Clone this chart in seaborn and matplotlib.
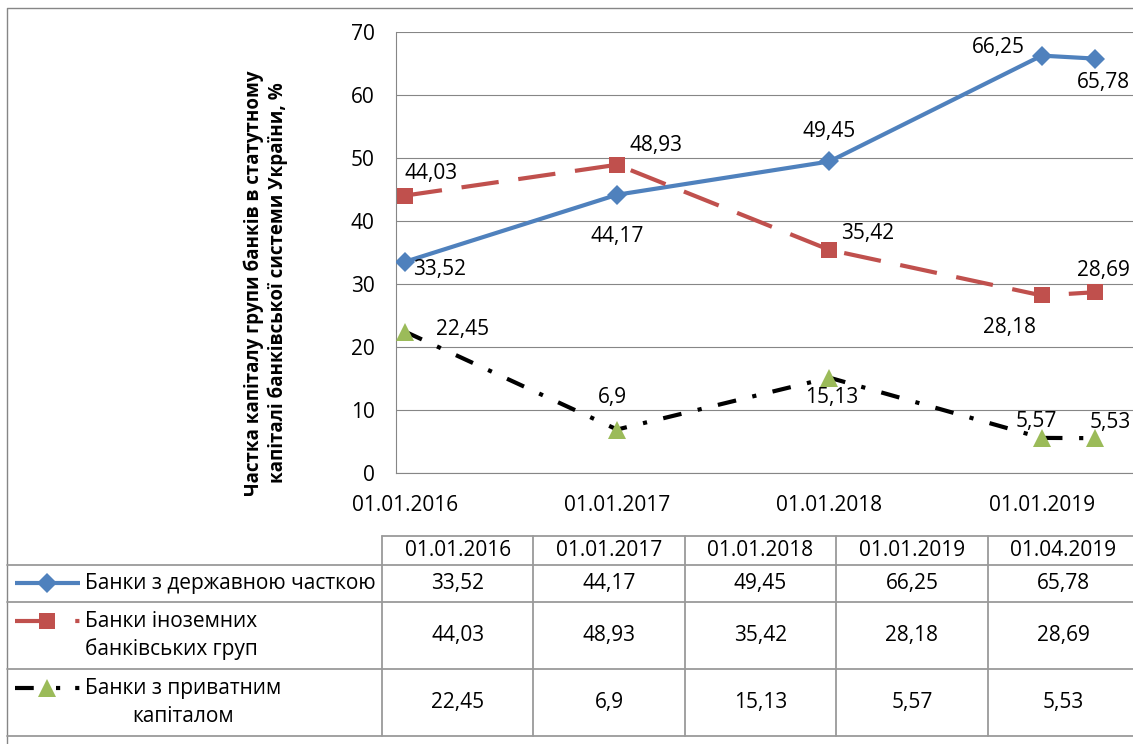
import matplotlib
matplotlib.use("Agg")
import matplotlib.pyplot as plt
import pandas as pd
import seaborn as sns

# ---------------- data ----------------
dates = ["01.01.2016", "01.01.2017", "01.01.2018", "01.01.2019", "01.04.2019"]
state_banks = [33.52, 44.17, 49.45, 66.25, 65.78]
foreign_banks = [44.03, 48.93, 35.42, 28.18, 28.69]
private_banks = [22.45, 6.9, 15.13, 5.57, 5.53]
series_names = [
    "Банки з державною часткою",
    "Банки іноземних\nбанківських груп",
    "Банки з приватним\nкапіталом",
]
axis_dates = ["01.01.2016", "01.01.2017", "01.01.2018", "01.01.2019"]
y_title = "Частка капіталу групи банків в статутному\nкапіталі банківської системи України, %"

# ---------------- style ----------------
W, H = 1133, 744
BLUE, RED, GREEN, BLACK = "#4F81BD", "#C0504D", "#9BBB59", "#000000"
GRID = "#868686"
TABLE = "#9A9A9A"
FS = 15

sns.set_style("white")
plt.rcParams["font.family"] = ["Open Sans", "DejaVu Sans"]
plt.rcParams.update({"text.color": "black", "xtick.color": "black", "ytick.color": "black"})


def month_pos(labels):
    d = pd.to_datetime(pd.Series(labels), format="%d.%m.%Y")
    return list((d.dt.year - 2016) * 12 + (d.dt.month - 1) + 0.5)


def px_rect(x0, y0, x1, y1):
    return [x0 / W, 1 - y1 / H, (x1 - x0) / W, (y1 - y0) / H]


def fmt(v):
    return str(v).replace(".", ",")


fig = plt.figure(figsize=(W / 100, H / 100), dpi=100)

# layout layer in pixel coordinates (frame, table, legend)
lay = fig.add_axes([0, 0, 1, 1], zorder=0)
lay.set_xlim(0, W)
lay.set_ylim(H, 0)
lay.axis("off")

# ---------------- chart ----------------
PX_PER_MONTH = 17.69
ax = fig.add_axes(px_rect(396, 32, W, 473), zorder=2)
ax.patch.set_alpha(0)
ax.set_xlim(0, (W - 396) / PX_PER_MONTH)
ax.set_ylim(0, 70)

x = month_pos(dates)
series = [
    (state_banks, dict(color=BLUE, marker="D", markersize=10.5, linestyle="-"),
     [(35, -8), (0, -42), (0, 30), (-43, 8), (9, -24)]),
    (foreign_banks, dict(color=RED, marker="s", markersize=12, linestyle=(0, (9, 4.75))),
     [(26, 22), (39, 19), (38, 16), (-32, -32), (9, 22)]),
    (private_banks, dict(color=BLACK, marker="^", markersize=13, markerfacecolor=GREEN,
                         linestyle=(0, (4.5, 4, 1, 4))),
     [(58, 2), (-5, 32), (2, -20), (-5, 16), (15, 16)]),
]

for vals, kw, offs in series:
    mfc = kw.pop("markerfacecolor", kw["color"])
    sns.lineplot(x=x, y=vals, ax=ax, linewidth=3.0, markerfacecolor=mfc,
                 markeredgecolor=mfc, markeredgewidth=0, zorder=3, **kw)
    for xi, v, (dx, dy) in zip(x, vals, offs):
        ax.annotate(fmt(v), (xi, v), xytext=(dx, dy), textcoords="offset pixels",
                    ha="center", va="center", fontsize=FS, zorder=4)

ax.yaxis.grid(True, color=GRID, linewidth=0.8)
ax.set_axisbelow(True)
for side in ("top", "right"):
    ax.spines[side].set_visible(False)
for side in ("left", "bottom"):
    ax.spines[side].set_color(GRID)
    ax.spines[side].set_linewidth(0.8)

ax.set_yticks(range(0, 71, 10))
ax.tick_params(axis="y", length=4.5, width=0.8, color=GRID, pad=11, labelsize=FS)

tick_pos = month_pos(axis_dates)
ax.set_xticks([p - 0.5 for p in tick_pos])
ax.set_xticklabels([])
ax.tick_params(axis="x", which="major", length=4.5, width=0.8, color=GRID)
ax.set_xticks(tick_pos, minor=True)
ax.set_xticklabels(axis_dates, minor=True)
ax.tick_params(axis="x", which="minor", length=0, pad=16, labelsize=FS)
ax.set_xlabel("")
ax.set_ylabel("")

fig.text(266 / W, 1 - 283 / H, y_title, rotation=90, ha="center", va="center",
         multialignment="center", fontsize=13.5, fontweight="bold", linespacing=1.25)

# ---------------- outer frame ----------------
lay.plot([7, 7, W], [H, 8, 8], color=GRID, lw=1.0)

# ---------------- data table ----------------
col_left, col_w = 382, 151.4
row_lines = [536, 565, 602, 669, 736]
col_lines = [col_left + i * col_w for i in range(6)]
lay.plot([col_left, W], [row_lines[0]] * 2, color=TABLE, lw=1.3)
for y in row_lines[1:]:
    lay.plot([7, W], [y, y], color=TABLE, lw=1.3)
for cx in col_lines:
    if cx < W:
        lay.plot([cx, cx], [row_lines[0], row_lines[-1]], color=TABLE, lw=1.3)

for i, d in enumerate(dates):
    cx = col_left + (i + 0.5) * col_w
    lay.text(cx, (row_lines[0] + row_lines[1]) / 2, d, ha="center", va="center", fontsize=FS)
    for r, vals in enumerate([state_banks, foreign_banks, private_banks]):
        cy = (row_lines[r + 1] + row_lines[r + 2]) / 2
        lay.text(cx, cy, fmt(vals[i]), ha="center", va="center", fontsize=FS)

# legend keys in the table's first column
key_y = [583, 621, 688]
key_dash = [None, (7.5, 6.96, 1, 8), (4.5, 5.34, 1, 3.6, 1, 5)]
for r, ((vals, kw, offs), name) in enumerate(zip(series, series_names)):
    ls = "-" if key_dash[r] is None else (0, key_dash[r])
    lay.plot([15, 80], [key_y[r]] * 2, color=kw["color"], lw=3.0, linestyle=ls,
             solid_capstyle="butt")
    mfc = GREEN if kw["marker"] == "^" else kw["color"]
    lay.plot([47], [key_y[r]], marker=kw["marker"], markersize=kw["markersize"],
             markerfacecolor=mfc, markeredgewidth=0, linestyle="none")
    cy = (row_lines[r + 1] + row_lines[r + 2]) / 2
    lay.text(85, cy, name, ha="left", va="center", multialignment="center",
             fontsize=FS, linespacing=1.4)

fig.savefig("out.png", dpi=100)
